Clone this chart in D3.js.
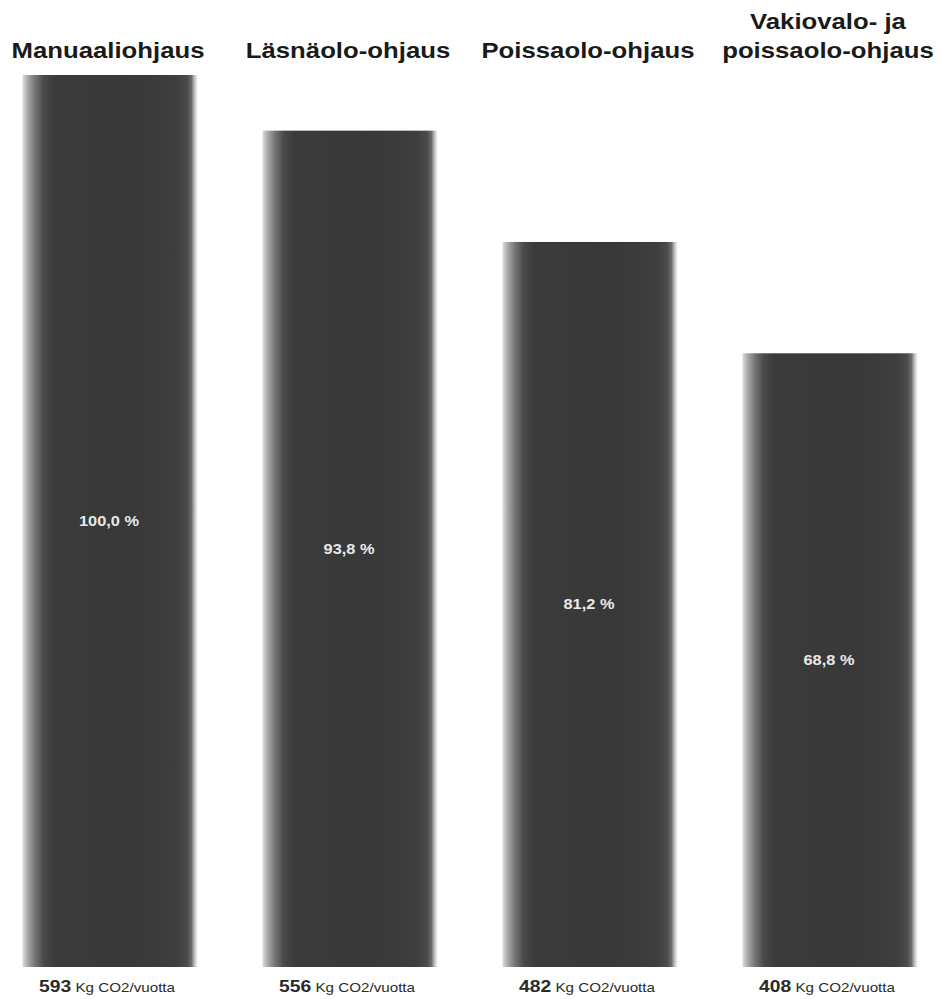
<!DOCTYPE html>
<html>
<head>
<meta charset="utf-8">
<script src="https://cdn.jsdelivr.net/npm/d3@7"></script>
<style>
  body { margin: 0; background: #fff; }
  svg { display: block; font-family: "Liberation Sans", Arial, sans-serif; }
</style>
</head>
<body>
<div id="chart"></div>
<script>
// data
const categories = ["Manuaaliohjaus", "Läsnäolo-ohjaus", "Poissaolo-ohjaus", "Vakiovalo- ja poissaolo-ohjaus"];
const titleLines = [["Manuaaliohjaus"], ["Läsnäolo-ohjaus"], ["Poissaolo-ohjaus"], ["Vakiovalo- ja", "poissaolo-ohjaus"]];
const co2Values = [593, 556, 482, 408];
const pctLabels = ["100,0 %", "93,8 %", "81,2 %", "68,8 %"];
const unitLabel = "Kg CO2/vuotta";

const width = 940, height = 999;
const baseY = 967, topY = 75;
const stretch = 1.17; // text in the original is drawn a bit wide

const svg = d3.select("#chart").append("svg")
    .attr("width", width)
    .attr("height", height);

let x = d3.scaleBand()
    .domain(categories)
    .range([0, width])
    .paddingInner(0.271)
    .paddingOuter(0.094);

let y = d3.scaleLinear()
    .domain([0, co2Values[0]])
    .range([baseY, topY]);

// soft-edged bar fill
const grad = svg.append("defs").append("linearGradient")
    .attr("id", "barGrad")
    .attr("x1", 0).attr("x2", 1).attr("y1", 0).attr("y2", 0);
[
  [0, "#dedede"], [0.03, "#a8a8a8"], [0.07, "#777777"], [0.12, "#4a4a4a"],
  [0.18, "#3b3b3b"], [0.6, "#383838"], [0.88, "#3e3e3e"], [0.94, "#4b4b4b"],
  [0.965, "#6a6a6a"], [0.985, "#c8c8c8"], [1, "#f4f4f4"]
].forEach(s => grad.append("stop").attr("offset", s[0]).attr("stop-color", s[1]));

function wideText(g, cx, cy) {
    return g.append("text")
        .attr("transform", `translate(${cx},${cy}) scale(${stretch},1)`)
        .attr("text-anchor", "middle");
}

categories.forEach((c, i) => {
    let v = co2Values[i];
    let cx = x(c) + x.bandwidth() / 2;

    // bar
    svg.append("rect")
        .attr("x", x(c))
        .attr("y", y(v))
        .attr("width", x.bandwidth())
        .attr("height", y(0) - y(v))
        .attr("fill", "url(#barGrad)");

    // title above
    let lines = titleLines[i];
    lines.forEach((ln, j) => {
        let by = 58 - (lines.length - 1 - j) * 29;
        wideText(svg, cx - 2, by)
            .attr("font-size", 22)
            .attr("font-weight", "bold")
            .attr("fill", "#1a1a1a")
            .text(ln);
    });

    // percent in the middle of the bar
    wideText(svg, cx - 1, (y(v) + y(0)) / 2 + 5)
        .attr("font-size", 14)
        .attr("font-weight", "bold")
        .attr("fill", "#e8e8e8")
        .text(pctLabels[i]);

    // value under the bar
    let t = wideText(svg, cx - 3, 992).attr("fill", "#2a2a2a");
    t.append("tspan").attr("font-size", 16.5).attr("font-weight", "bold").text(v);
    t.append("tspan").attr("font-size", 13).text(" " + unitLabel);
});
</script>
</body>
</html>
